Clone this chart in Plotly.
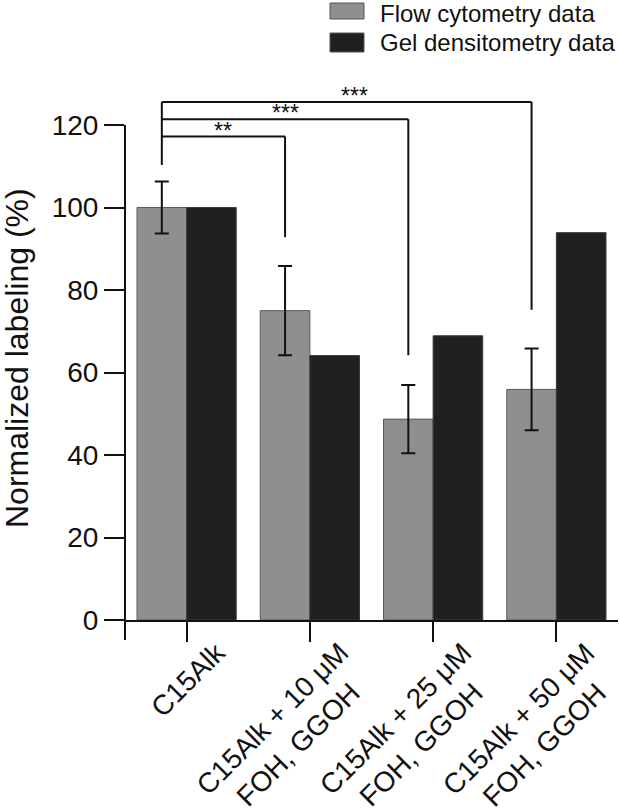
import plotly.graph_objects as go

# ---- data ----
categories = ["C15Alk", "C15Alk + 10 μM<br>FOH, GGOH", "C15Alk + 25 μM<br>FOH, GGOH", "C15Alk + 50 μM<br>FOH, GGOH"]
flow_values = [100.0, 75.0, 48.7, 55.9]
flow_errors = [6.3, 10.8, 8.3, 9.9]
gel_values = [100.0, 64.1, 68.9, 93.9]
y_ticks = [0, 20, 40, 60, 80, 100, 120]

# significance brackets (from first group to group i)
sig_targets = [1, 2, 3]
sig_levels = [117.2, 121.4, 125.6]
sig_drop_ends = [92.8, 64.2, 75.2]
sig_left_bottom = 110.3
sig_labels = ["**", "***", "***"]

FONT = "Arial, Liberation Sans, Helvetica, sans-serif"
W, H = 620, 812
ML, MR, MT, MB = 125, 2, 76, 192
PW, PH = W - ML - MR, H - MT - MB
YMAX = PH / 4.125
BARGAP = 0.195
bar_w = (1 - BARGAP) / 2
flow_off = -bar_w / 2

xs = list(range(len(categories)))

fig = go.Figure()
fig.add_trace(go.Bar(
    x=xs, y=flow_values, name="Flow cytometry data",
    marker=dict(color="#8f8f8f", line=dict(color="#5a5a5a", width=1)),
    error_y=dict(type="data", array=flow_errors, visible=True, color="#111111", thickness=2, width=7),
))
fig.add_trace(go.Bar(
    x=xs, y=gel_values, name="Gel densitometry data",
    marker=dict(color="#202020", line=dict(color="#3a3a3a", width=1)),
))

shapes = []
line_style = dict(color="#111111", width=2)
# left vertical of the brackets
shapes.append(dict(type="line", xref="x", yref="y", x0=flow_off, x1=flow_off,
                   y0=sig_left_bottom, y1=max(sig_levels), line=line_style))
annotations = []
for k, (tgt, lvl, end, lab) in enumerate(zip(sig_targets, sig_levels, sig_drop_ends, sig_labels)):
    xr = tgt + flow_off
    shapes.append(dict(type="line", xref="x", yref="y", x0=flow_off, x1=xr, y0=lvl, y1=lvl, line=line_style))
    shapes.append(dict(type="line", xref="x", yref="y", x0=xr, x1=xr, y0=lvl, y1=end, line=line_style))
    annotations.append(dict(x=(flow_off + xr) / 2, y=lvl, xref="x", yref="y", text=lab, showarrow=False,
                            xanchor="center", yanchor="bottom", yshift=-9, xshift=(8 if k == 2 else 0),
                            font=dict(family=FONT, size=23, color="#111111")))

# y axis line (extends below zero like the original)
shapes.append(dict(type="line", xref="paper", yref="paper", x0=0, x1=0, y0=-20 / PH, y1=120 / YMAX,
                   line=line_style))

# category labels (rotated, centred multi-line)
n_cat = len(categories)
cat_w = PW / n_cat
for i, c in enumerate(categories):
    nl = c.count("<br>") + 1
    off_px = 23 + nl * 25
    annotations.append(dict(x=(i + 0.5 + off_px / cat_w) / n_cat, y=-14 / PH, xref="paper", yref="paper",
                            text=c, showarrow=False, textangle=-45, align="center",
                            xanchor="right", yanchor="top",
                            font=dict(family=FONT, size=28, color="#111111")))

# y title
annotations.append(dict(x=(17 - ML) / PW, y=(620 - 358) / PH, xref="paper", yref="paper",
                        text="Normalized labeling (%)", showarrow=False, textangle=-90,
                        xanchor="center", yanchor="middle",
                        font=dict(family=FONT, size=32, color="#111111")))

# legend (drawn manually to match the large swatches)
leg = [("Flow cytometry data", "#8f8f8f", 3, 19, 13), ("Gel densitometry data", "#202020", 33, 52, 42)]
for name, col, y0p, y1p, yc in leg:
    shapes.append(dict(type="rect", xref="paper", yref="paper",
                       x0=(330 - ML) / PW, x1=(364 - ML) / PW,
                       y0=(620 - y1p) / PH, y1=(620 - y0p) / PH,
                       fillcolor=col, line=dict(color="#555555", width=1)))
    annotations.append(dict(x=(378 - ML) / PW, y=(620 - yc) / PH, xref="paper", yref="paper",
                            text=name, showarrow=False, xanchor="left", yanchor="middle",
                            font=dict(family=FONT, size=24, color="#111111")))

fig.update_layout(
    width=W, height=H,
    margin=dict(l=ML, r=MR, t=MT, b=MB, pad=0),
    paper_bgcolor="white", plot_bgcolor="white",
    barmode="group", bargap=BARGAP, bargroupgap=0,
    showlegend=False,
    shapes=shapes, annotations=annotations,
    font=dict(family=FONT, color="#111111"),
    xaxis=dict(range=[-0.5, 3.5], tickmode="array", tickvals=xs, ticktext=[""] * len(xs),
               showticklabels=False, tickson="boundaries", ticks="outside", ticklen=20,
               tickwidth=2, tickcolor="#111111", showline=True, linewidth=2, linecolor="#111111",
               showgrid=False, zeroline=False),
    yaxis=dict(range=[0, YMAX], tickmode="array", tickvals=y_ticks, ticks="outside", ticklen=20,
               tickwidth=2, tickcolor="#111111", showline=False, showgrid=False, zeroline=False,
               tickfont=dict(family=FONT, size=28, color="#111111")),
)

fig.write_html("out.html", config={"displayModeBar": False},
               post_script="document.body.style.margin='0';document.body.style.padding='0';")
